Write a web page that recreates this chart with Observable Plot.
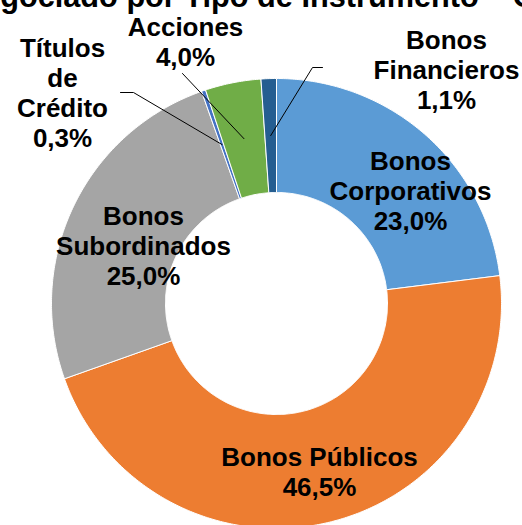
<!DOCTYPE html>
<html>
<head>
<meta charset="utf-8">
<script src="https://cdn.jsdelivr.net/npm/d3@7"></script>
<script src="https://cdn.jsdelivr.net/npm/@observablehq/plot@0.6"></script>
<style>
  html, body { margin: 0; padding: 0; background: #fff; overflow: hidden; width: 522px; height: 525px; }
  #wrap { position: relative; width: 522px; height: 525px; overflow: hidden; }
  #title { position: absolute; top: -18px; right: -13px; white-space: nowrap; font: bold 30.7px "Liberation Sans", Arial, sans-serif; line-height: 30px; color: #000; z-index: 2; }
  #chart svg { display: block; overflow: hidden; }
</style>
</head>
<body>
<div id="wrap">
  <div id="title">Negociado por Tipo de Instrumento – C</div>
  <div id="chart"></div>
</div>
<script>
// ---- Data ----
const categories = ["Bonos Corporativos", "Bonos Públicos", "Bonos Subordinados", "Títulos de Crédito", "Acciones", "Bonos Financieros"];
const shares = [23.0, 46.5, 25.0, 0.3, 4.0, 1.1];
const labelNames = ["Bonos\nCorporativos", "Bonos Públicos", "Bonos\nSubordinados", "Títulos\nde\nCrédito", "Acciones", "Bonos\nFinancieros"];
const colors = ["#5B9BD5", "#ED7D31", "#A5A5A5", "#4472C4", "#70AD47", "#255E91"];

// ---- Layout (pixels) ----
const W = 522, H = 525, cx = 276, cy = 303, R = 225, R0 = 111;
const labelAt = {
  "Bonos Corporativos": [410, 190],
  "Bonos Públicos": [319, 471],
  "Bonos Subordinados": [143, 245],
  "Títulos de Crédito": [62, 92],
  "Acciones": [185, 41],
  "Bonos Financieros": [446, 69]
};
const leaderFrom = {
  "Títulos de Crédito": [[120, 92], [133, 92]],
  "Acciones": [[182, 73]],
  "Bonos Financieros": [[322, 67], [312, 67]]
};
const toX = px => (px - cx) / R;
const toY = py => (cy - py) / R;

const data = categories.map((c, i) => ({cat: c, share: shares[i], name: labelNames[i]}));
const arcs = d3.pie().sort(null).value(d => d.share)(data);

// slice polygons
const ringIn = R0 / R;
const slicePts = [];
for (const a of arcs) {
  const n = Math.max(2, Math.ceil((a.endAngle - a.startAngle) / 0.01));
  const pts = [];
  for (let i = 0; i <= n; i++) {
    const t = a.startAngle + (a.endAngle - a.startAngle) * i / n;
    pts.push({x: Math.sin(t), y: Math.cos(t)});
  }
  for (let i = n; i >= 0; i--) {
    const t = a.startAngle + (a.endAngle - a.startAngle) * i / n;
    pts.push({x: ringIn * Math.sin(t), y: ringIn * Math.cos(t)});
  }
  pts.push(pts[0]);
  for (const p of pts) slicePts.push({cat: a.data.cat, x: p.x, y: p.y});
}

// leader lines: from label anchor to slice mid-ring centroid
const midR = (1 + ringIn) / 2;
const leaderPts = [];
for (const a of arcs) {
  const from = leaderFrom[a.data.cat];
  if (!from) continue;
  for (const [px, py] of from) leaderPts.push({cat: a.data.cat, x: toX(px), y: toY(py)});
  const t = (a.startAngle + a.endAngle) / 2;
  leaderPts.push({cat: a.data.cat, x: midR * Math.sin(t), y: midR * Math.cos(t)});
}

const labels = data.map(d => ({
  cat: d.cat,
  x: toX(labelAt[d.cat][0]),
  y: toY(labelAt[d.cat][1]),
  text: d.name + "\n" + d.share.toFixed(1).replace(".", ",") + "%"
}));

const chart = Plot.plot({
  width: W,
  height: H,
  margin: 0,
  style: {fontFamily: "'Liberation Sans', Arial, sans-serif", background: "white", overflow: "hidden"},
  x: {domain: [toX(0), toX(W)], axis: null},
  y: {domain: [toY(H), toY(0)], axis: null},
  color: {domain: categories, range: colors},
  marks: [
    Plot.line(slicePts, {x: "x", y: "y", z: "cat", fill: "cat", stroke: "white", strokeWidth: 1, curve: "linear"}),
    Plot.line(leaderPts, {x: "x", y: "y", z: "cat", stroke: "black", strokeWidth: 1}),
    Plot.text(labels, {x: "x", y: "y", text: "text", fontSize: 26, fontWeight: "bold", lineHeight: 1.15, fill: "black"})
  ]
});
document.getElementById("chart").appendChild(chart);
</script>
</body>
</html>
